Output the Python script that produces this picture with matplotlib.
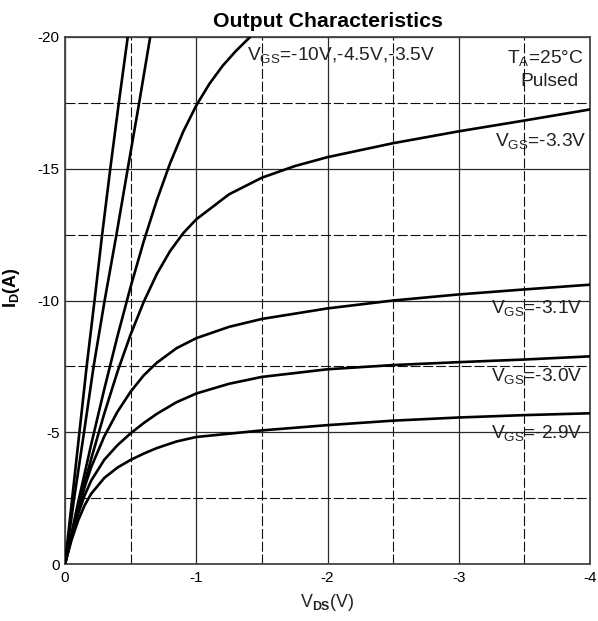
import matplotlib
matplotlib.use("Agg")
import matplotlib.pyplot as plt
from matplotlib.ticker import MultipleLocator

plt.rcParams['font.family'] = ['Liberation Sans', 'DejaVu Sans']
plt.rcParams['mathtext.fontset'] = 'custom'
plt.rcParams['mathtext.rm'] = 'Liberation Sans'
plt.rcParams['mathtext.it'] = 'Liberation Sans:italic'
plt.rcParams['mathtext.bf'] = 'Liberation Sans:bold'
plt.rcParams['axes.unicode_minus'] = False

# ---- data (VDS in V, ID in A) ----
vds_10v = [0, -0.055, -0.11, -0.165, -0.225, -0.283, -0.345, -0.41, -0.478]
id_10v = [0, -2.5, -5, -7.5, -10, -12.5, -15, -17.5, -20]

vds_45v = [0, -0.07, -0.145, -0.218, -0.302, -0.392, -0.478, -0.565, -0.649]
id_45v = [0, -2.5, -5, -7.5, -10, -12.5, -15, -17.5, -20]

vds_35v = [0, -0.1, -0.2, -0.3, -0.4, -0.5, -0.6, -0.7, -0.8, -0.9, -1.0,
           -1.1, -1.2, -1.3, -1.4, -1.45]
id_35v = [0, -2.34, -4.55, -6.65, -8.65, -10.52, -12.25, -13.81, -15.2,
          -16.4, -17.4, -18.22, -18.9, -19.46, -19.95, -20.2]

vds_33v = [0, -0.05, -0.1, -0.15, -0.2, -0.3, -0.4, -0.5, -0.6, -0.7, -0.8,
           -0.9, -1.0, -1.25, -1.5, -1.75, -2.0, -2.5, -3.0, -3.5, -4.0]
id_33v = [0, -1.08, -2.1, -3.08, -4.0, -5.72, -7.3, -8.71, -9.95, -11.01,
          -11.87, -12.55, -13.08, -14.03, -14.66, -15.1, -15.44, -15.97,
          -16.42, -16.83, -17.25]

vds_31v = [0, -0.05, -0.1, -0.15, -0.2, -0.3, -0.4, -0.5, -0.6, -0.7, -0.85,
           -1.0, -1.25, -1.5, -2.0, -2.5, -3.0, -3.5, -4.0]
id_31v = [0, -1.06, -2.05, -2.93, -3.68, -4.85, -5.78, -6.54, -7.16, -7.64,
          -8.19, -8.57, -9.0, -9.3, -9.7, -10.0, -10.23, -10.42, -10.6]

vds_30v = [0, -0.05, -0.1, -0.15, -0.2, -0.3, -0.4, -0.5, -0.6, -0.7, -0.85,
           -1.0, -1.25, -1.5, -2.0, -2.5, -3.0, -3.5, -4.0]
id_30v = [0, -1.02, -1.9, -2.61, -3.17, -3.96, -4.51, -4.96, -5.35, -5.7,
          -6.14, -6.47, -6.84, -7.1, -7.39, -7.55, -7.66, -7.76, -7.88]

vds_29v = [0, -0.05, -0.1, -0.15, -0.2, -0.3, -0.4, -0.5, -0.6, -0.7, -0.85,
           -1.0, -1.25, -1.5, -2.0, -2.5, -3.0, -3.5, -4.0]
id_29v = [0, -0.91, -1.65, -2.23, -2.67, -3.27, -3.66, -3.95, -4.19, -4.4,
          -4.65, -4.82, -4.945, -5.07, -5.27, -5.44, -5.56, -5.65, -5.72]

curves = [(vds_10v, id_10v), (vds_45v, id_45v), (vds_35v, id_35v),
          (vds_33v, id_33v), (vds_31v, id_31v), (vds_30v, id_30v),
          (vds_29v, id_29v)]

x_ticks = [0, -1, -2, -3, -4]
x_tick_labels = ["0", "-1", "-2", "-3", "-4"]
y_ticks = [0, -5, -10, -15, -20]
y_tick_labels = ["0", "-5", "-10", "-15", "-20"]

# ---- figure ----
W, H = 598, 621
fig = plt.figure(figsize=(W / 100, H / 100), dpi=100)
L, R, T, B = 65, 590, 37, 564
ax = fig.add_axes([L / W, 1 - B / H, (R - L) / W, (B - T) / H])

ax.set_xlim(0, -4)
ax.set_ylim(0, -20)
ax.set_xticks(x_ticks)
ax.set_xticklabels(x_tick_labels)
ax.set_yticks(y_ticks)
ax.set_yticklabels(y_tick_labels)
ax.xaxis.set_minor_locator(MultipleLocator(0.5))
ax.yaxis.set_minor_locator(MultipleLocator(2.5))
ax.tick_params(which='both', length=0)
ax.tick_params(axis='x', labelsize=11, pad=5)
ax.tick_params(axis='y', labelsize=11, pad=4)

ax.grid(which='major', color='#2a2a2a', lw=0.9, ls='-')
ax.grid(which='minor', color='#111111', lw=0.8, ls=(0, (9, 2.5)))
ax.set_axisbelow(True)
for s in ax.spines.values():
    s.set_color('#444444')
    s.set_linewidth(1.3)

for vx, iy in curves:
    ax.plot(vx, iy, color='black', lw=1.9, solid_capstyle='round',
            solid_joinstyle='round', zorder=3)

fs = 13.8
tc = '#222222'
ax.text(-1.387, -19.13, r'V$_\mathrm{GS}$=-10V,-4.5V,-3.5V', fontsize=fs,
        ha='left', va='baseline', color=tc, zorder=4)
ax.text(-3.947, -19.0, r'T$_\mathrm{A}$=25°C', fontsize=fs,
        ha='right', va='baseline', color=tc, zorder=4)
ax.text(-3.909, -18.14, 'Pulsed', fontsize=fs,
        ha='right', va='baseline', color=tc, zorder=4)
ax.text(-3.977, -15.86, r'V$_\mathrm{GS}$=-3.3V', fontsize=fs,
        ha='right', va='baseline', color=tc, zorder=4)
ax.text(-3.94, -9.53, r'V$_\mathrm{GS}$=-3.1V', fontsize=fs,
        ha='right', va='baseline', color=tc, zorder=4)
ax.text(-3.94, -6.94, r'V$_\mathrm{GS}$=-3.0V', fontsize=fs,
        ha='right', va='baseline', color=tc, zorder=4)
ax.text(-3.94, -4.78, r'V$_\mathrm{GS}$=-2.9V', fontsize=fs,
        ha='right', va='baseline', color=tc, zorder=4)

fig.text((L + R) / 2 / W, 1 - 27 / H, 'Output Characteristics',
         fontsize=15.3, fontweight='bold', ha='center', va='baseline')
fig.text(327 / W, 1 - 607 / H, r'V$_\mathbf{DS}$(V)', fontsize=12.8,
         ha='center', va='baseline', color=tc)
fig.text(22 / W, 1 - 288 / H, r'I$_\mathbf{D}$(A)', fontsize=13,
         fontweight='bold', rotation=90, ha='right', va='center')

fig.savefig('out.png', dpi=100, facecolor='white')
